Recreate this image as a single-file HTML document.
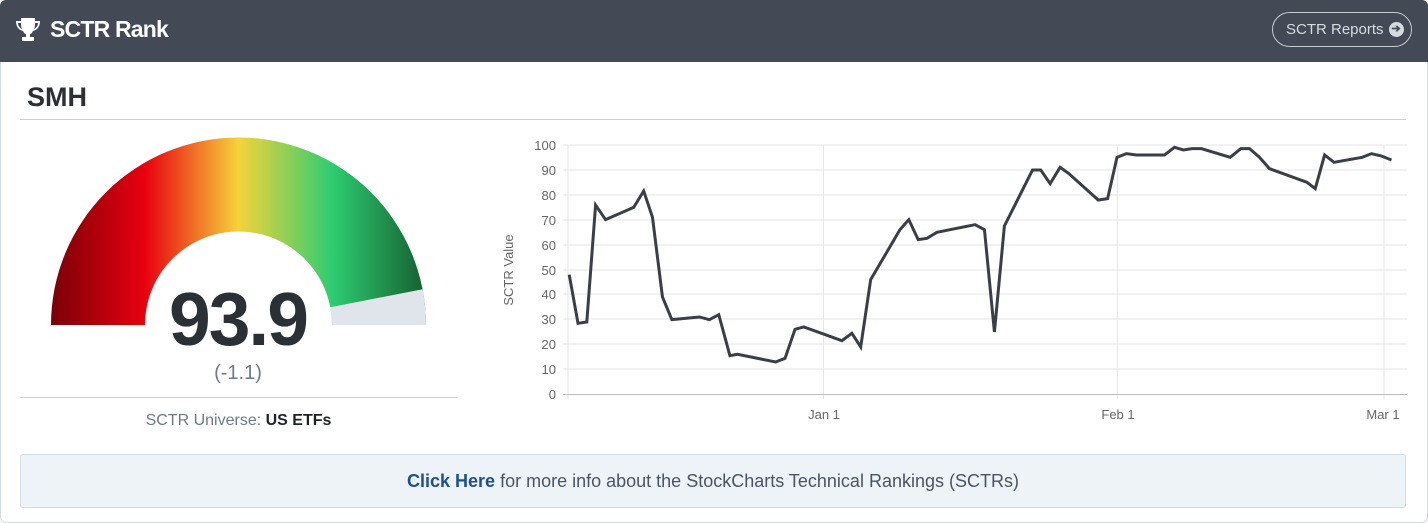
<!DOCTYPE html>
<html><head><meta charset="utf-8"><style>
body{margin:0;width:1428px;height:523px;background:#fff;font-family:"Liberation Sans",sans-serif;overflow:hidden;position:relative}
.frame{position:absolute;left:0;top:0;width:1426px;height:521px;border:1px solid #d5dbe1;border-radius:6px}
.hdr{position:absolute;left:0;top:0;width:1428px;height:62px;background:#434a55;border-radius:6px 6px 0 0}
.hdr .t{position:absolute;left:50px;top:16px;color:#fff;font-weight:bold;font-size:23px;letter-spacing:-0.8px}
.btn{position:absolute;left:1272px;top:12px;width:140px;height:35px;border:1px solid #c5ccd3;border-radius:18px;box-sizing:border-box;color:#d5dbe1;font-size:15px;display:flex;align-items:center;padding-left:13px}
.btn span{display:inline-block;width:15px;height:15px;border-radius:50%;background:#d5dbe1;color:#434a55;font-size:11px;line-height:15px;text-align:center;margin-left:5px;font-weight:bold}
.smh{position:absolute;left:27px;top:82px;font-size:27px;font-weight:bold;color:#2b2f36}
.l1{position:absolute;left:20px;top:119px;width:1386px;height:1px;background:#c9d0d7}
.l2{position:absolute;left:20px;top:397px;width:437px;height:1px;background:#c9d0d7}
.num{position:absolute;left:138px;top:276px;width:200px;text-align:center;font-size:75px;font-weight:bold;color:#2b2f36;letter-spacing:-2px}
.chg{position:absolute;left:138px;top:362px;width:200px;text-align:center;font-size:20px;color:#6c7a89}
.uni{position:absolute;left:20px;top:412px;width:437px;text-align:center;font-size:16px;color:#6c7a89}
.uni b{color:#1f2329}
.info{position:absolute;left:20px;top:454px;width:1386px;height:54px;background:#eef3f7;border:1px solid #d5dde4;box-sizing:border-box;border-radius:3px;text-align:center;line-height:52px;font-size:18px;color:#4a5563}
.info b{color:#1d4f91}
</style></head><body>
<div class="frame"></div>
<div class="hdr">
<svg style="position:absolute;left:15px;top:17px" width="26" height="26" viewBox="0 0 26 26"><path d="M6 1h14v3h5c0 6-3 9-7 10c-1 2-2 3-3 3v3h4v4H7v-4h4v-3c-1 0-2-1-3-3C4 13 1 10 1 4h5zM3 6c0 3 2 5 4 6c-1-2-1-4-1-6zM23 6h-3c0 2 0 4-1 6c2-1 4-3 4-6z" fill="#fff"/></svg>
<div class="t">SCTR Rank</div>
<div class="btn">SCTR Reports <span>➔</span></div>
</div>
<div class="smh">SMH</div>
<div class="l1"></div>
<svg style="position:absolute;left:0;top:0" width="470" height="400">
<defs><linearGradient id="g" x1="51" x2="426" y1="0" y2="0" gradientUnits="userSpaceOnUse">
<stop offset="0" stop-color="#7a0008"/><stop offset="0.25" stop-color="#e8000f"/><stop offset="0.5" stop-color="#f5d33a"/><stop offset="0.75" stop-color="#2ecc71"/><stop offset="1" stop-color="#155f30"/></linearGradient></defs>
<path d="M51 325A187.5 187.5 0 0 1 426 325H332A93.5 93.5 0 0 0 145 325Z" fill="url(#g)"/>
<path d="M422.6 289.2A187.5 187.5 0 0 1 426 325H332A93.5 93.5 0 0 0 330.3 307.2Z" fill="#dfe5eb"/>
</svg>
<div class="num">93.9</div>
<div class="chg">(-1.1)</div>
<div class="l2"></div>
<div class="uni">SCTR Universe: <b>US ETFs</b></div>
<svg style="position:absolute;left:0;top:0" width="1428" height="440" font-family="Liberation Sans, sans-serif" font-size="13" fill="#666">
<g stroke="#e6e6e6" stroke-width="1">
<line x1="563" x2="1407" y1="145" y2="145"/><line x1="563" x2="1407" y1="170" y2="170"/><line x1="563" x2="1407" y1="195" y2="195"/><line x1="563" x2="1407" y1="220" y2="220"/><line x1="563" x2="1407" y1="245" y2="245"/><line x1="563" x2="1407" y1="270" y2="270"/><line x1="563" x2="1407" y1="294" y2="294"/><line x1="563" x2="1407" y1="319" y2="319"/><line x1="563" x2="1407" y1="344" y2="344"/><line x1="563" x2="1407" y1="369" y2="369"/>
<line x1="568" x2="568" y1="145" y2="399"/><line x1="823.5" x2="823.5" y1="145" y2="399"/><line x1="1117.5" x2="1117.5" y1="145" y2="399"/><line x1="1384" x2="1384" y1="145" y2="399"/>
</g>
<line x1="563" x2="1407" y1="394.5" y2="394.5" stroke="#bbb"/>
<g text-anchor="end">
<text x="556" y="150">100</text><text x="556" y="175">90</text><text x="556" y="200">80</text><text x="556" y="225">70</text><text x="556" y="250">60</text><text x="556" y="275">50</text><text x="556" y="299">40</text><text x="556" y="324">30</text><text x="556" y="349">20</text><text x="556" y="374">10</text><text x="556" y="399">0</text>
</g>
<g text-anchor="middle"><text x="824" y="419">Jan 1</text><text x="1118" y="419">Feb 1</text><text x="1383" y="419">Mar 1</text></g>
<text transform="translate(513,270) rotate(-90)" text-anchor="middle">SCTR Value</text>
<g transform="translate(500,130) scale(0.5865,0.3333)">
<polyline fill="none" stroke="#3a3f47" stroke-width="3" vector-effect="non-scaling-stroke" stroke-linejoin="miter" points="118,434 133,580 148,576 163,225 180,269 228,232 245,183 260,262 277,501 293,569 340,561 357,569 373,554 392,677 405,673 470,696 486,685 503,598 518,591 583,632 600,610 615,651 632,449 682,299 697,269 713,329 728,325 745,307 810,284 826,299 843,606 860,288 908,120 922,120 938,161 955,112 970,131 1020,210 1036,206 1052,82 1068,71 1085,75 1133,75 1150,52 1165,60 1180,56 1196,56 1245,82 1263,56 1278,56 1295,82 1312,116 1376,157 1390,176 1406,75 1422,97 1470,82 1486,71 1503,78 1520,90"/>
</g>
</svg>
<div class="info"><b>Click Here</b> for more info about the StockCharts Technical Rankings (SCTRs)</div>
</body></html>
